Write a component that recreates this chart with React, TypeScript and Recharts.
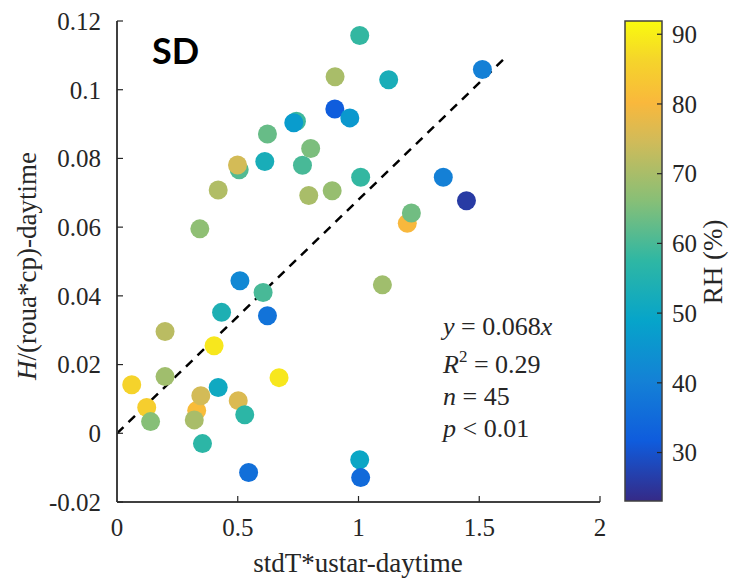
import React from 'react';
import { ScatterChart, Scatter, XAxis, YAxis, Cell, ReferenceLine } from 'recharts';

// axis ticks
const xTicks = [0, 0.5, 1, 1.5, 2];
const yTicks = [-0.02, 0, 0.02, 0.04, 0.06, 0.08, 0.1, 0.12];
const rhTicks = [30, 40, 50, 60, 70, 80, 90];
const rhMin = 23.05;
const rhMax = 91.9;

// points in drawing order (later ones sit on top)
const stdTUstar = [
    1.005, 0.903, 1.513, 1.125, 0.902, 0.964, 0.743, 0.732, 0.623, 0.506,
    0.499, 0.612, 0.768, 0.802, 0.419, 0.794, 0.891, 1.009, 1.351, 1.447,
    1.202, 1.219, 0.343, 1.099, 0.509, 0.605, 0.433, 0.623, 0.199, 0.402,
    0.199, 0.671, 0.061, 0.419, 0.123, 0.139, 0.330, 0.347, 0.320, 0.502,
    0.529, 0.354, 0.545, 1.005, 1.009,
];
const heatFlux = [
    0.1158, 0.1038, 0.1059, 0.1029, 0.0944, 0.0918, 0.0908, 0.0904, 0.0871, 0.0767,
    0.0781, 0.0791, 0.0780, 0.0829, 0.0708, 0.0692, 0.0706, 0.0745, 0.0745, 0.0677,
    0.0611, 0.0641, 0.0595, 0.0432, 0.0444, 0.0410, 0.0352, 0.0342, 0.0296, 0.0255,
    0.0165, 0.0162, 0.0141, 0.0133, 0.0075, 0.0034, 0.0066, 0.0109, 0.0039, 0.0095,
    0.0054, -0.0030, -0.0114, -0.0077, -0.0129,
];
const relHum = [
    58, 70, 40, 53, 32, 46, 59, 47, 63, 61,
    75, 53, 60, 65, 71, 70, 68, 58, 40, 26,
    80, 64, 67, 69, 42, 60, 54, 37, 72, 89,
    69, 89, 86, 51, 85, 66, 81, 75, 70, 76,
    57, 57, 36, 50, 35,
];

// fit
const slope = 0.068;
const fitX = [0, 1.6];

// parula colormap stops
const parulaStops = [
    [0.0, '#352a87'],
    [0.125, '#0f5cdd'],
    [0.25, '#1481d6'],
    [0.375, '#06a4ca'],
    [0.5, '#2eb7a4'],
    [0.625, '#87bf77'],
    [0.75, '#d1bb59'],
    [0.83, '#f9b83c'],
    [0.92, '#f5d52a'],
    [1.0, '#f9fb0e'],
] as const;

const hexToRgb = (h: string) => [1, 3, 5].map((i) => parseInt(h.slice(i, i + 2), 16));

const parula = (t: number) => {
    const f = Math.min(1, Math.max(0, t));
    for (let i = 1; i < parulaStops.length; i++) {
        const [t1, c1] = parulaStops[i];
        const [t0, c0] = parulaStops[i - 1];
        if (f <= t1) {
            const k = (f - t0) / (t1 - t0);
            const a = hexToRgb(c0);
            const b = hexToRgb(c1);
            const rgb = a.map((v, j) => Math.round(v + (b[j] - v) * k));
            return `rgb(${rgb[0]},${rgb[1]},${rgb[2]})`;
        }
    }
    return parulaStops[parulaStops.length - 1][1];
};

const rhColor = (rh: number) => parula((rh - rhMin) / (rhMax - rhMin));

const points = stdTUstar.map((x, i) => ({ x, y: heatFlux[i], rh: relHum[i] }));

const serif = 'Liberation Serif, Times New Roman, serif';
const ink = '#262626';
const frame = '#404040';

const Dot = (props: any) => (
    <circle cx={props.cx} cy={props.cy} r={9.5} fill={props.fill} />
);

// colorbar geometry
const cb = { x: 625, y: 21, w: 37, h: 480 };
const rhToY = (v: number) => cb.y + cb.h * (1 - (v - rhMin) / (rhMax - rhMin));

const App: React.FC = () => {
    const tickStyle = { fontSize: 25, fontFamily: serif, fill: ink };
    return (
        <div style={{ position: 'relative', width: 736, height: 579, background: '#fff' }}>
            <style>{'body{margin:0}'}</style>
            <ScatterChart width={736} height={579} margin={{ top: 21, right: 136, bottom: 0, left: 0 }}>
                <XAxis
                    type="number"
                    dataKey="x"
                    domain={[0, 2]}
                    ticks={xTicks}
                    height={77}
                    tickSize={-6}
                    tickMargin={22}
                    tick={tickStyle}
                    axisLine={{ stroke: frame, strokeWidth: 2 }}
                    tickLine={{ stroke: ink, strokeWidth: 1.2 }}
                    allowDataOverflow
                />
                <XAxis
                    xAxisId="top"
                    orientation="top"
                    type="number"
                    domain={[0, 2]}
                    ticks={xTicks}
                    height={0}
                    tickSize={-6}
                    tickFormatter={() => ''}
                    axisLine={{ stroke: frame, strokeWidth: 2 }}
                    tickLine={{ stroke: ink, strokeWidth: 1.2 }}
                    allowDataOverflow
                />
                <YAxis
                    type="number"
                    dataKey="y"
                    domain={[-0.02, 0.12]}
                    ticks={yTicks}
                    width={117}
                    tickSize={-6}
                    tickMargin={22}
                    tick={tickStyle}
                    tickFormatter={(v: number) => String(v)}
                    axisLine={{ stroke: frame, strokeWidth: 2 }}
                    tickLine={{ stroke: ink, strokeWidth: 1.2 }}
                    allowDataOverflow
                />
                <YAxis
                    yAxisId="right"
                    orientation="right"
                    type="number"
                    domain={[-0.02, 0.12]}
                    ticks={yTicks}
                    width={0}
                    tickSize={-6}
                    tickFormatter={() => ''}
                    axisLine={{ stroke: frame, strokeWidth: 2 }}
                    tickLine={{ stroke: ink, strokeWidth: 1.2 }}
                    allowDataOverflow
                />
                <Scatter data={points} shape={Dot} isAnimationActive={false}>
                    {points.map((p, i) => (
                        <Cell key={i} fill={rhColor(p.rh)} />
                    ))}
                </Scatter>
                <ReferenceLine
                    segment={fitX.map((x) => ({ x, y: slope * x }))}
                    stroke="#000"
                    strokeWidth={2.5}
                    strokeDasharray="9 7"
                    ifOverflow="visible"
                />
            </ScatterChart>

            <svg
                width={736}
                height={579}
                style={{ position: 'absolute', left: 0, top: 0, pointerEvents: 'none' }}
            >
                <defs>
                    <linearGradient id="parulaBar" x1="0" y1="1" x2="0" y2="0">
                        {parulaStops.map(([t, c]) => (
                            <stop key={t} offset={t} stopColor={c} />
                        ))}
                    </linearGradient>
                </defs>

                {/* panel tag */}
                <text x={152} y={64} fontFamily="Lato, sans-serif" fontWeight={700} fontSize={36} fill="#000">
                    SD
                </text>

                {/* fit statistics */}
                <g fontFamily={serif} fontSize={26} fill={ink}>
                    <text x={443} y={335}>
                        <tspan fontStyle="italic">y</tspan> = 0.068<tspan fontStyle="italic">x</tspan>
                    </text>
                    <text x={443} y={373}>
                        <tspan fontStyle="italic">R</tspan>
                        <tspan dy={-11} fontSize={17}>2</tspan>
                        <tspan dy={11}> = 0.29</tspan>
                    </text>
                    <text x={443} y={405}>
                        <tspan fontStyle="italic">n</tspan> = 45
                    </text>
                    <text x={443} y={437}>
                        <tspan fontStyle="italic">p</tspan> &lt; 0.01
                    </text>
                </g>

                {/* axis titles */}
                <text x={358} y={572} textAnchor="middle" fontFamily={serif} fontSize={27} fill={ink}>
                    stdT*ustar-daytime
                </text>
                <text
                    transform="translate(36,266) rotate(-90)"
                    textAnchor="middle"
                    fontFamily={serif}
                    fontSize={27}
                    fill={ink}
                >
                    <tspan fontStyle="italic">H</tspan>/(roua*cp)-daytime
                </text>

                {/* colorbar */}
                <rect x={cb.x} y={cb.y} width={cb.w} height={cb.h} fill="url(#parulaBar)" stroke={frame} strokeWidth={1.5} />
                {rhTicks.map((v) => (
                    <g key={v}>
                        <line x1={cb.x + cb.w - 5} x2={cb.x + cb.w} y1={rhToY(v)} y2={rhToY(v)} stroke={ink} strokeWidth={1.2} />
                        <text x={cb.x + cb.w + 10} y={rhToY(v)} dy="0.35em" fontFamily={serif} fontSize={25} fill={ink}>
                            {v}
                        </text>
                    </g>
                ))}
                <text
                    transform="translate(722,262) rotate(-90)"
                    textAnchor="middle"
                    fontFamily={serif}
                    fontSize={27}
                    fill={ink}
                >
                    RH (%)
                </text>
            </svg>
        </div>
    );
};

export default App;
